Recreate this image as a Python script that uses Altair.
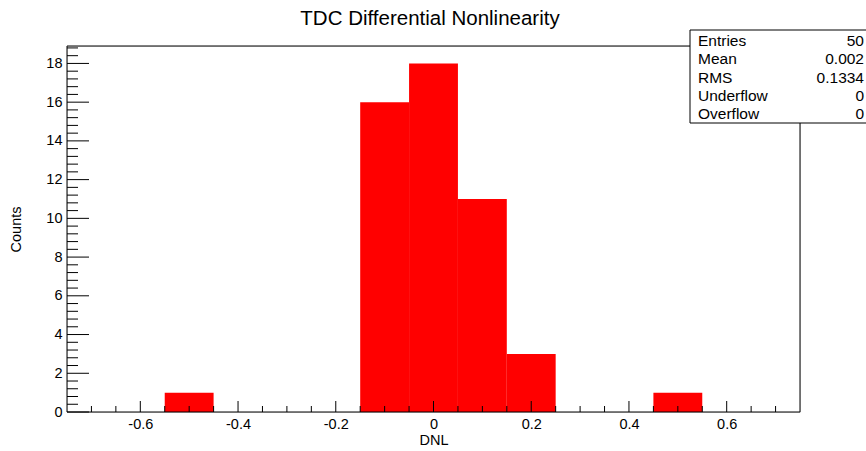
import altair as alt
import pandas as pd

# ---- data ----
bin_lo = [-0.55, -0.15, -0.05, 0.05, 0.15, 0.45]
bin_hi = [-0.45, -0.05, 0.05, 0.15, 0.25, 0.55]
counts = [1, 16, 18, 11, 3, 1]

x_major = [-0.6, -0.4, -0.2, 0.0, 0.2, 0.4, 0.6]
x_minor = [-0.7, -0.65, -0.55, -0.5, -0.45, -0.35, -0.3, -0.25, -0.15, -0.1,
           -0.05, 0.05, 0.1, 0.15, 0.25, 0.3, 0.35, 0.45, 0.5, 0.55, 0.65, 0.7]
y_major = [0, 2, 4, 6, 8, 10, 12, 14, 16, 18]
y_minor = [round(m + k * 0.4, 2) for m in y_major for k in (1, 2, 3, 4)
           if round(m + k * 0.4, 2) <= 18.8]

stat_names = ["Entries", "Mean", "RMS", "Underflow", "Overflow"]
stat_values = ["50", "0.002", "0.1334", "0", "0"]

title_text = "TDC Differential Nonlinearity"
x_title = "DNL"
y_title = "Counts"

W, H = 733, 366
FONT = "Liberation Sans"
FS = 14.5

xscale = alt.Scale(domain=[-0.75, 0.75], nice=False, zero=False)
yscale = alt.Scale(domain=[0, 18.9], nice=False, zero=False)

x_axis = alt.Axis(values=x_major, tickSize=0, domain=False, grid=False,
                  labelExpr="datum.value == 0 ? '0' : (datum.value < 0 ? '-' + format(-datum.value, '.1f') : format(datum.value, '.1f'))",
                  labelFontSize=FS, labelPadding=5, labelFont=FONT, labelColor="black",
                  title=x_title, titleFontSize=FS, titleFont=FONT, titleFontWeight="normal",
                  titleColor="black", titlePadding=3)
y_axis = alt.Axis(values=y_major, tickSize=0, domain=False, grid=False,
                  labelFontSize=FS, labelPadding=5, labelFont=FONT, labelColor="black",
                  title=y_title, titleFontSize=FS, titleFont=FONT, titleFontWeight="normal",
                  titleColor="black", titlePadding=22)

bars_df = pd.DataFrame({"lo": bin_lo, "hi": bin_hi, "n": counts})

bars = alt.Chart(bars_df).mark_rect(color="#ff0000").encode(
    x=alt.X("lo:Q", scale=xscale, axis=x_axis),
    x2="hi:Q",
    y=alt.Y("n:Q", scale=yscale, axis=y_axis),
    y2=alt.datum(0),
)

ymaj = alt.Chart(pd.DataFrame({"v": y_major})).mark_rule(color="black", strokeWidth=1).encode(
    y=alt.Y("v:Q", scale=yscale, axis=y_axis), x=alt.value(0), x2=alt.value(22))
ymin = alt.Chart(pd.DataFrame({"v": y_minor})).mark_rule(color="black", strokeWidth=1).encode(
    y=alt.Y("v:Q", scale=yscale, axis=y_axis), x=alt.value(0), x2=alt.value(11))
xmaj = alt.Chart(pd.DataFrame({"v": x_major})).mark_rule(color="black", strokeWidth=1).encode(
    x=alt.X("v:Q", scale=xscale, axis=x_axis), y=alt.value(H), y2=alt.value(H - 11))
xmin = alt.Chart(pd.DataFrame({"v": x_minor})).mark_rule(color="black", strokeWidth=1).encode(
    x=alt.X("v:Q", scale=xscale, axis=x_axis), y=alt.value(H), y2=alt.value(H - 6))

one = alt.Data(values=[{}])
frame = alt.Chart(one).mark_rect(fill=None, stroke="black", strokeWidth=1).encode(
    x=alt.value(0), x2=alt.value(W), y=alt.value(0), y2=alt.value(H))

title = alt.Chart(one).mark_text(text=title_text, font=FONT, fontSize=20.5, color="black",
                                 align="center", baseline="alphabetic").encode(
    x=alt.value(W / 2 - 3.5), y=alt.value(-21))

box = alt.Chart(one).mark_rect(fill="white", stroke="black", strokeWidth=1).encode(
    x=alt.value(623), x2=alt.value(812), y=alt.value(-16), y2=alt.value(77))

stat_layers = []
for i, (nm, vv) in enumerate(zip(stat_names, stat_values)):
    yy = -5 + 18.3 * i
    stat_layers.append(alt.Chart(one).mark_text(text=nm, font=FONT, fontSize=15.5, color="black",
                                                align="left", baseline="middle").encode(
        x=alt.value(631), y=alt.value(yy)))
    stat_layers.append(alt.Chart(one).mark_text(text=vv, font=FONT, fontSize=15.5, color="black",
                                                align="right", baseline="middle").encode(
        x=alt.value(797), y=alt.value(yy)))

chart = alt.layer(bars, ymin, ymaj, xmin, xmaj, frame, title, box, *stat_layers).properties(
    width=W, height=H,
    autosize=alt.AutoSizeParams(type="none"),
    padding={"left": 67, "top": 46, "right": 66, "bottom": 39},
).configure_view(stroke=None).configure(background="white")

chart.save("out.html", embed_options={"renderer": "svg", "actions": False})
